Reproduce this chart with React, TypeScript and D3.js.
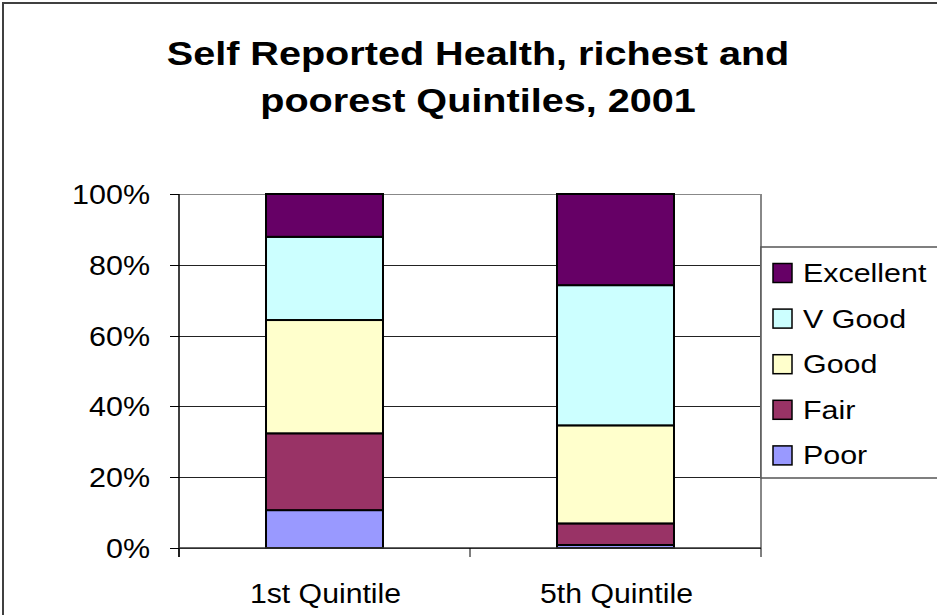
import React from "react";
import * as d3 from "d3";

const categories = ["1st Quintile", "5th Quintile"];
const seriesNames = ["Poor", "Fair", "Good", "V Good", "Excellent"];
const poor = [10.7, 0.85];
const fair = [21.7, 6.1];
const good = [32.0, 27.7];
const vgood = [23.5, 39.6];
const excellent = [12.1, 25.75];
const seriesColors = ["#9999FF", "#993366", "#FFFFCC", "#CCFFFF", "#660066"];
const yTicks = [0, 0.2, 0.4, 0.6, 0.8, 1.0];
const titleLines = ["Self Reported Health, richest and", "poorest Quintiles, 2001"];

const W = 937;
const H = 615;
const FONT = "Arial, 'Liberation Sans', Helvetica, sans-serif";

function SText(props: {
  x: number;
  y: number;
  sx: number;
  size: number;
  anchor?: string;
  bold?: boolean;
  children: React.ReactNode;
}) {
  return (
    <text
      transform={`translate(${props.x},${props.y}) scale(${props.sx},1)`}
      textAnchor={props.anchor || "start"}
      fontFamily={FONT}
      fontWeight={props.bold ? "bold" : "normal"}
      fontSize={props.size}
      fill="#000"
    >
      {props.children}
    </text>
  );
}

export default function App() {
  const plot = { left: 179, right: 761, top: 194, bottom: 548 };
  const values = [poor, fair, good, vgood, excellent];
  const rows = categories.map((c, i) => {
    const r: any = { cat: c };
    seriesNames.forEach((s, k) => (r[s] = values[k][i] / 100));
    return r;
  });
  const stacked = d3.stack().keys(seriesNames)(rows);

  const x = d3
    .scaleBand()
    .domain(categories)
    .range([plot.left, plot.right])
    .paddingInner(0.598)
    .paddingOuter(0.299);
  const y = d3.scaleLinear().domain([0, 1]).range([plot.bottom, plot.top]);
  const step = x.step();
  const boundaries = [
    plot.left,
    ...categories.map((c) => (x(c) as number) + x.bandwidth() / 2 + step / 2),
  ];

  const legendItems = seriesNames.slice().reverse();
  const legendColors = seriesColors.slice().reverse();

  return (
    <svg width={W} height={H} style={{ display: "block", position: "absolute", left: 0, top: 0 }}>
      <rect x={0} y={0} width={W} height={H} fill="#fff" />
      <rect x={3} y={3} width={W + 20} height={H + 20} fill="#fff" stroke="#404040" strokeWidth={2} />

      {titleLines.map((t, i) => (
        <SText key={i} x={478} y={65 + i * 47} sx={1.2} size={33} anchor="middle" bold>
          {t}
        </SText>
      ))}

      {/* gridlines */}
      {yTicks.map((t) => (
        <line
          key={t}
          x1={plot.left}
          x2={plot.right}
          y1={Math.round(y(t)) + 0.5}
          y2={Math.round(y(t)) + 0.5}
          stroke={t === 1 ? "#888" : "#222"}
          strokeWidth={1}
        />
      ))}
      {/* plot right border */}
      <line x1={plot.right} x2={plot.right} y1={plot.top} y2={plot.bottom} stroke="#888" strokeWidth={2} />

      {/* bars */}
      {stacked.map((layer, k) =>
        layer.map((d, i) => (
          <rect
            key={k + "-" + i}
            x={x(categories[i]) as number}
            y={y(d[1])}
            width={x.bandwidth()}
            height={Math.max(0, y(d[0]) - y(d[1]))}
            fill={seriesColors[k]}
            stroke="#000"
            strokeWidth={2}
          />
        ))
      )}

      {/* axes */}
      <line x1={plot.left} x2={plot.left} y1={plot.top} y2={plot.bottom + 9} stroke="#000" strokeWidth={1.5} />
      <line x1={plot.left} x2={plot.right} y1={plot.bottom} y2={plot.bottom} stroke="#333" strokeWidth={1.5} />
      {yTicks.map((t) => (
        <line
          key={"t" + t}
          x1={plot.left - 9}
          x2={plot.left}
          y1={Math.round(y(t)) + 0.5}
          y2={Math.round(y(t)) + 0.5}
          stroke="#000"
          strokeWidth={1}
        />
      ))}
      {boundaries.map((b, i) => (
        <line key={"b" + i} x1={b} x2={b} y1={plot.bottom} y2={plot.bottom + 9} stroke="#000" strokeWidth={1} />
      ))}
      {yTicks.map((t) => (
        <SText key={"l" + t} x={150} y={y(t) + 10} sx={1.13} size={27} anchor="end">
          {d3.format(".0%")(t)}
        </SText>
      ))}
      {categories.map((c) => (
        <SText key={c} x={(x(c) as number) + x.bandwidth() / 2 + 1} y={603} sx={1.12} size={27} anchor="middle">
          {c}
        </SText>
      ))}

      {/* legend */}
      <rect x={761} y={247} width={200} height={231} fill="#fff" stroke="#555" strokeWidth={1.5} />
      {legendItems.map((s, i) => {
        const cy = 273 + i * 45.6;
        return (
          <g key={s}>
            <rect x={773} y={cy - 9.5} width={19} height={19} fill={legendColors[i]} stroke="#000" strokeWidth={1.5} />
            <SText x={803} y={cy + 9} sx={1.17} size={26}>
              {s}
            </SText>
          </g>
        );
      })}
    </svg>
  );
}
